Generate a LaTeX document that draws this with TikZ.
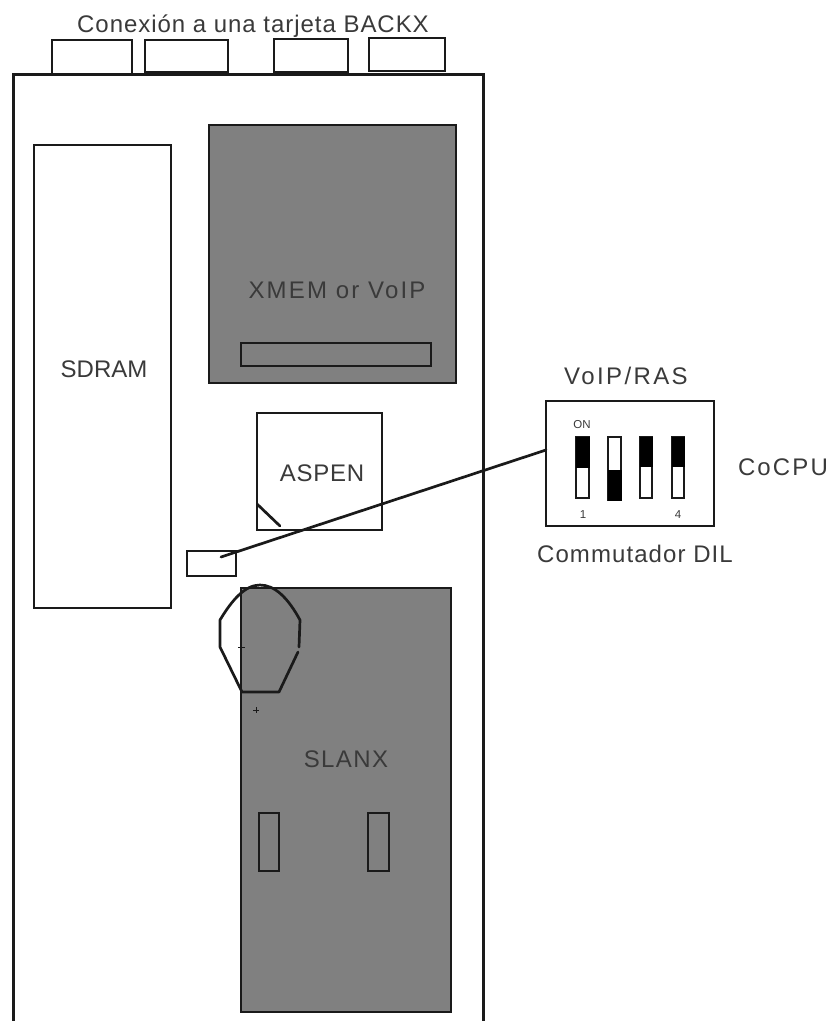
\documentclass[tikz,border=0pt]{standalone}
\usepackage{fontspec}
\setmainfont{Liberation Sans}
\definecolor{chip}{HTML}{808080}
\definecolor{ink}{HTML}{1A1A1A}
\definecolor{txt}{HTML}{3A3A3A}
\tikzset{
  part/.style={draw=ink,line width=2.7pt,inner sep=0pt,outer sep=0pt,text=txt},
  plain/.style={part,fill=white},
  chipbox/.style={part,fill=chip},
  lbl/.style={inner sep=0pt,outer sep=0pt,text=txt,font=\fontsize{24}{24}\selectfont},
  tiny/.style={inner sep=0pt,outer sep=0pt,text=txt,font=\fontsize{11.5}{12}\selectfont},
  wire/.style={draw=ink,line width=2.7pt,line cap=round,line join=round},
  knob/.style={fill=black,draw=black,line width=1pt},
}
% name, x1, y1, x2, y2, style, text
\newcommand{\bx}[7]{\node[#6,minimum width={#4-#2},minimum height={#5-#3}] (#1) at ({(#2+#4)/2},{(#3+#5)/2}) {#7};}
\begin{document}
\begin{tikzpicture}[x=1pt,y=-1pt]
\useasboundingbox (0,0) rectangle (832,1021);
% board outline
\coordinate (bl) at (13,1021);
\coordinate (tl) at (13,74);
\coordinate (tr) at (483,74);
\coordinate (br) at (483,1021);
\draw[wire,line width=3pt,line cap=butt,line join=miter] (bl) -- (tl) -- (tr) -- (br);
% rear connectors
\bx{c1}{52}{40}{132}{74}{plain}{}
\bx{c2}{145}{40}{228}{72}{plain}{}
\bx{c3}{274}{39}{348}{72}{plain}{}
\bx{c4}{369}{38}{445}{71}{plain}{}
\node[lbl] (title) at (253,26.5) {\addfontfeatures{LetterSpace=4}Conexión a una tarjeta BACKX};
% chips
\bx{sdram}{34}{145}{171}{608}{plain}{}
\node[lbl] (sdramt) at (104,369) {SDRAM};
\bx{xmem}{209}{125}{456}{383}{chipbox}{}
\node[lbl] (xmemt) at (337,290) {\addfontfeatures{LetterSpace=9}XMEM or VoIP};
\bx{xslot}{241}{343}{431}{366}{chipbox}{}
\bx{aspen}{257}{413}{382}{530}{plain}{}
\node[lbl] (aspent) at (322,473) {\addfontfeatures{LetterSpace=3}ASPEN};
\coordinate (na) at (257,504);
\coordinate (nb) at (280,526);
\draw[wire] (na) -- (nb);
\bx{sw}{187}{551}{236}{576}{plain}{}
\bx{slanx}{241}{588}{451}{1012}{chipbox}{}
\node[lbl] (slanxt) at (346,759) {\addfontfeatures{LetterSpace=6}SLANX};
\bx{s1}{259}{813}{279}{871}{chipbox}{}
\bx{s2}{368}{813}{389}{871}{chipbox}{}
% outline circle
\draw[wire] (299,647) -- (300,620) .. controls (288,598) and (275,585) .. (260,585) .. controls (245,585) and (232,600) .. (220,620) -- (220,647) -- (242,692) -- (279,692) -- (298,652);
\draw[line width=1pt,draw=ink] (238,647) -- (245,647);
\draw[line width=.7pt,draw=ink] (253,710) -- (259,710) (256,707) -- (256,713);
% DIP switch
\bx{dip}{546}{401}{714}{526}{plain}{}
\coordinate (la) at (221,557);
\coordinate (lb) at (546,450);
\draw[wire] (la) -- (lb);
\bx{d1}{576}{437}{589}{498}{plain}{}
\bx{d2}{608}{437}{621}{500}{plain}{}
\bx{d3}{640}{437}{652}{498}{plain}{}
\bx{d4}{672}{437}{684}{498}{plain}{}
\bx{k1}{576}{437}{589}{467}{knob}{}
\bx{k2}{608}{470}{621}{500}{knob}{}
\bx{k3}{640}{437}{652}{466}{knob}{}
\bx{k4}{672}{437}{684}{466}{knob}{}
\node[tiny] (on) at (582,425) {ON};
\node[tiny] (n1) at (583,515) {1};
\node[tiny] (n4) at (678,515) {4};
\node[lbl] (voip) at (626,376) {\addfontfeatures{LetterSpace=10}VoIP/RAS};
\node[lbl] (cocpu) at (783,467) {\addfontfeatures{LetterSpace=9}CoCPU};
\node[lbl] (dil) at (635,554) {\addfontfeatures{LetterSpace=4.5}Commutador DIL};
\end{tikzpicture}
\end{document}
